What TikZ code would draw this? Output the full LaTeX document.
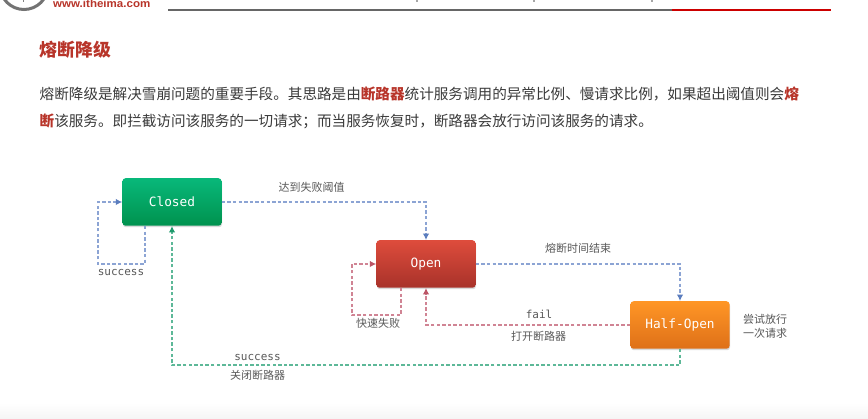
\documentclass[tikz,border=0pt]{standalone}
\usepackage{fontspec}
\setmainfont{Noto Sans CJK SC}
\setmonofont{DejaVu Sans Mono}
\newfontfamily\latinf{Liberation Sans}
\usetikzlibrary{arrows.meta}
\definecolor{inktext}{HTML}{3A3A3A}
\definecolor{labeltext}{HTML}{595959}
\definecolor{redtext}{HTML}{B8352A}
\definecolor{bluelink}{HTML}{8CA4D4}
\definecolor{arrowblue}{HTML}{5B7DBE}
\definecolor{redlink}{HTML}{D08494}
\definecolor{arrowred}{HTML}{BC5566}
\definecolor{greenlink}{HTML}{5DB898}
\definecolor{arrowgreen}{HTML}{1F9A6C}
\definecolor{shadowc}{HTML}{D9D9D9}
\tikzset{
  x=1pt,y=-1pt,
  statebox/.style={rounded corners=3pt,minimum width=99pt,minimum height=47.5pt,inner sep=0,
    text=white,font=\ttfamily\fontsize{12.8}{13}\selectfont},
  shadowbox/.style={fill=shadowc,rounded corners=3pt,minimum width=99pt,minimum height=47.5pt,inner sep=0},
  flow/.style={dash pattern=on 3.4pt off 2.2pt,line width=1.6pt},
  flowblue/.style={flow,draw=bluelink,-{Latex[length=6.5pt,width=6.5pt,color=arrowblue]}},
  flowred/.style={flow,draw=redlink,-{Latex[length=6.5pt,width=6.5pt,color=arrowred]}},
  flowgreen/.style={flow,draw=greenlink,-{Latex[length=6.5pt,width=6.5pt,color=arrowgreen]}},
  lab/.style={text=labeltext,font=\fontsize{11}{13}\selectfont,inner sep=0},
  labm/.style={text=labeltext,font=\ttfamily\fontsize{11}{13}\selectfont,inner sep=0},
  body/.style={text=inktext,anchor=west,inner sep=0,font=\fontsize{14.6}{18}\selectfont},
}
\newcommand{\hl}[1]{\textcolor{redtext}{\bfseries #1}}
\begin{document}
\begin{tikzpicture}
\useasboundingbox (0,0) rectangle (868,419);
\fill[white] (0,0) rectangle (868,419);
% bottom band
\shade[top color=white,bottom color=black!4] (0,403) rectangle (868,419);
% header
\begin{scope}
\clip (0,0) rectangle (868,419);
\draw[line width=3pt,black!55] (24,-14.5) circle (24pt);
\draw[line width=1.3pt,black!50] (23.5,0) -- (23.5,2.2);
\draw[line width=1.3pt,black!35] (417,0) -- (417,2);
\draw[line width=1.3pt,black!35] (534,0) -- (534,2);
\draw[line width=1.3pt,black!35] (652,0) -- (652,2);
\end{scope}
\node[anchor=base west,inner sep=0,text=redtext,font=\latinf\bfseries\fontsize{11}{12}\selectfont,xscale=1.05] (site) at (53,8) {www.itheima.com};
\coordinate (ruleA) at (168,10);
\coordinate (ruleB) at (672,10);
\coordinate (ruleC) at (831,10);
\draw[line width=1.6pt,black!60] (ruleA) -- (ruleB);
\draw[line width=1.6pt,red!80!black] (ruleB) -- (ruleC);
% title and body
\node[anchor=west,inner sep=0,text=redtext,font=\bfseries\fontsize{17.8}{20}\selectfont] (title) at (39.5,49.5) {熔断降级};
\node[body] (l1) at (39.5,94) {熔断降级是解决雪崩问题的重要手段。其思路是由\hl{断路器}统计服务调用的异常比例、慢请求比例，如果超出阈值则会\hl{熔}};
\node[body] (l2) at (39.5,121) {\hl{断}该服务。即拦截访问该服务的一切请求；而当服务恢复时，断路器会放行访问该服务的请求。};
% state boxes
\node[shadowbox] (closedshadow) at (172.5,203.5) {};
\node[shadowbox] (openshadow) at (426.5,265.5) {};
\node[shadowbox] (halfshadow) at (680.5,326.5) {};
\node[statebox,top color={rgb,255:red,8;green,184;blue,122},bottom color={rgb,255:red,0;green,146;blue,78}] (closed) at (172,202) {Closed};
\node[statebox,top color={rgb,255:red,222;green,76;blue,60},bottom color={rgb,255:red,168;green,50;blue,42}] (open) at (426,264) {Open};
\node[statebox,top color={rgb,255:red,255;green,150;blue,38},bottom color={rgb,255:red,222;green,112;blue,24}] (half) at (680,325) {Half-Open};
% connectors
\draw[flowblue] (closed.east) -| (open.north);
\draw[flowblue] (open.east) -| (half.north);
\coordinate (cl1) at (145,264);
\coordinate (cl2) at (98,264);
\draw[flowblue] (closed.south -| cl1) -- (cl1) -- (cl2) |- (closed.west);
\coordinate (ol1) at (401,315);
\coordinate (ol2) at (352,315);
\draw[flowred] (open.south -| ol1) -- (ol1) -- (ol2) |- (open.west);
\draw[flowred] (half.west) -| (open.south);
\coordinate (gr) at (680,365);
\draw[flowgreen] (half.south) -- (gr) -| (closed.south);
% labels
\node[lab] (t1) at (311.5,187.5) {达到失败阈值};
\node[labm] (t2) at (121,272) {success};
\node[lab] (t3) at (578,248.5) {熔断时间结束};
\node[lab] (t4) at (378,323.5) {快速失败};
\node[labm] (t5) at (539,314) {fail};
\node[lab] (t6) at (538.5,336.5) {打开断路器};
\node[labm] (t7) at (257.5,357.5) {success};
\node[lab] (t8) at (257.5,375) {关闭断路器};
\node[lab,align=center,font=\fontsize{11}{13.5}\selectfont] (t9) at (765,326.5) {尝试放行\\一次请求};
\end{tikzpicture}
\end{document}
